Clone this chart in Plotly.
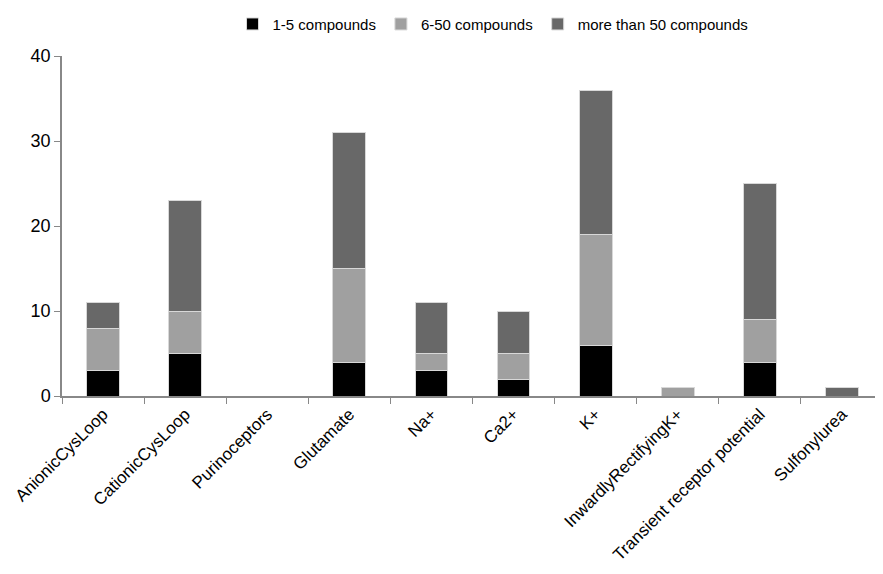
import plotly.graph_objects as go

categories = ["AnionicCysLoop", "CationicCysLoop", "Purinoceptors", "Glutamate", "Na+",
              "Ca2+", "K+", "InwardlyRectifyingK+", "Transient receptor potential", "Sulfonylurea"]
few = [3, 5, 0, 4, 3, 2, 6, 0, 4, 0]
mid = [5, 5, 0, 11, 2, 3, 13, 1, 5, 0]
many = [3, 13, 0, 16, 6, 5, 17, 0, 16, 1]
series_names = ["1-5 compounds", "6-50 compounds", "more than 50 compounds"]
colors = ["#000000", "#a0a0a0", "#686868"]
y_ticks = [0, 10, 20, 30, 40]

fig = go.Figure()
for name, vals, c in zip(series_names, [few, mid, many], colors):
    fig.add_trace(go.Bar(x=categories, y=vals, name=name, marker_color=c,
                         marker_line=dict(color="#d8d8d8", width=1), width=0.4))

fig.update_layout(
    barmode="stack",
    width=875, height=566,
    margin=dict(l=54, r=0, t=48, b=178, autoexpand=False),
    paper_bgcolor="white", plot_bgcolor="white",
    font=dict(family="Liberation Sans, Arial, sans-serif", color="#000000"),
    legend=dict(orientation="h", x=0.525, xanchor="center", y=1.045, yanchor="bottom",
                font=dict(size=15), traceorder="normal", itemwidth=30,
                tracegroupgap=0, bgcolor="rgba(0,0,0,0)"),
    showlegend=True,
)
fig.update_xaxes(type="category", tickangle=-45, tickfont=dict(size=17),
                 showline=True, linecolor="#888888", linewidth=1.5,
                 ticks="outside", tickson="boundaries", ticklen=6, tickcolor="#888888",
                 showgrid=False, automargin=False)
fig.update_yaxes(range=[0, 40], tickvals=y_ticks, tickfont=dict(size=18),
                 showline=True, linecolor="#888888", linewidth=1.5,
                 ticks="outside", ticklen=6, tickcolor="#888888",
                 showgrid=False, zeroline=False, automargin=False)

fig.write_html("out.html")
